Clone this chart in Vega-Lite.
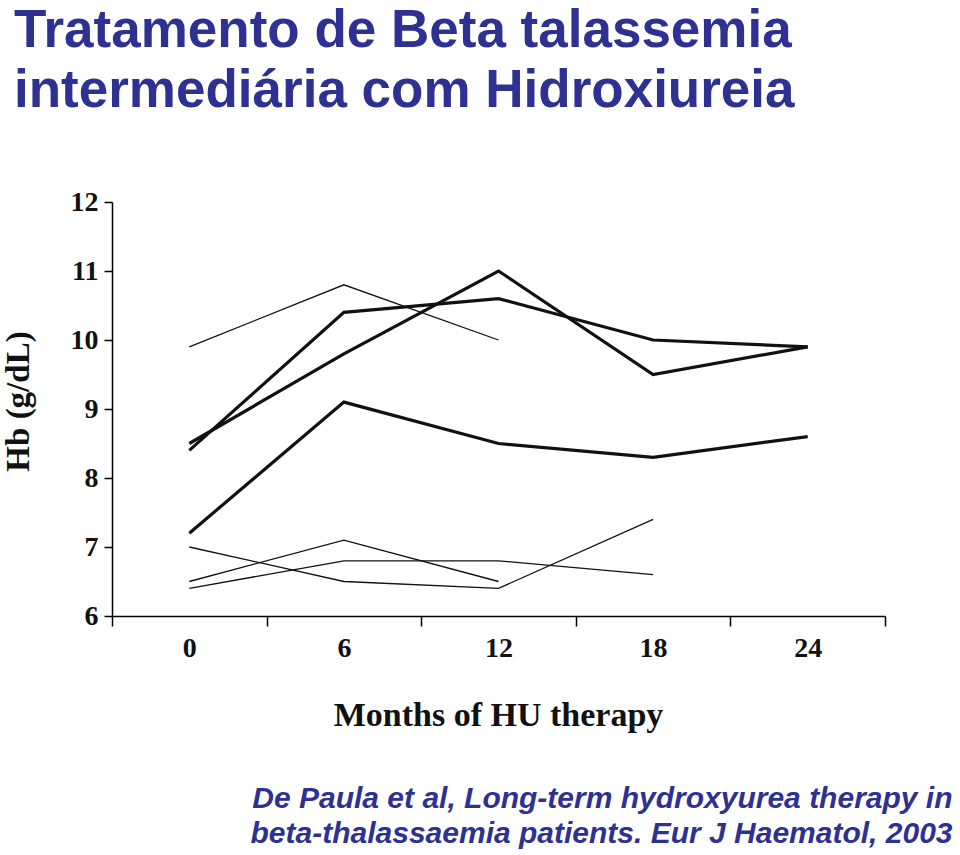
{
  "$schema": "https://vega.github.io/schema/vega-lite/v6.json",
  "autosize": {"type": "none"},
  "width": 773,
  "height": 414,
  "padding": {"left": 112, "top": 202, "right": 75, "bottom": 239},
  "background": "white",
  "title": {
    "text": ["Tratamento de Beta talassemia", "intermediária com Hidroxiureia"],
    "anchor": "start",
    "frame": "group",
    "orient": "top",
    "offset": 0,
    "dx": -98,
    "dy": -70,
    "font": "Liberation Sans",
    "fontSize": 53,
    "fontWeight": "bold",
    "color": "#2e3192",
    "lineHeight": 60,
    "baseline": "top"
  },
  "data": {
    "values": [
      {"patient": "A", "cohort": "24 months", "month": 0, "hb": 8.4},
      {"patient": "A", "cohort": "24 months", "month": 6, "hb": 10.4},
      {"patient": "A", "cohort": "24 months", "month": 12, "hb": 10.6},
      {"patient": "A", "cohort": "24 months", "month": 18, "hb": 10.0},
      {"patient": "A", "cohort": "24 months", "month": 24, "hb": 9.9},
      {"patient": "B", "cohort": "24 months", "month": 0, "hb": 8.5},
      {"patient": "B", "cohort": "24 months", "month": 6, "hb": 9.8},
      {"patient": "B", "cohort": "24 months", "month": 12, "hb": 11.0},
      {"patient": "B", "cohort": "24 months", "month": 18, "hb": 9.5},
      {"patient": "B", "cohort": "24 months", "month": 24, "hb": 9.9},
      {"patient": "C", "cohort": "24 months", "month": 0, "hb": 7.2},
      {"patient": "C", "cohort": "24 months", "month": 6, "hb": 9.1},
      {"patient": "C", "cohort": "24 months", "month": 12, "hb": 8.5},
      {"patient": "C", "cohort": "24 months", "month": 18, "hb": 8.3},
      {"patient": "C", "cohort": "24 months", "month": 24, "hb": 8.6},
      {"patient": "D", "cohort": "shorter", "month": 0, "hb": 9.9},
      {"patient": "D", "cohort": "shorter", "month": 6, "hb": 10.8},
      {"patient": "D", "cohort": "shorter", "month": 12, "hb": 10.0},
      {"patient": "E", "cohort": "shorter", "month": 0, "hb": 6.5},
      {"patient": "E", "cohort": "shorter", "month": 6, "hb": 7.1},
      {"patient": "E", "cohort": "shorter", "month": 12, "hb": 6.5},
      {"patient": "F", "cohort": "shorter", "month": 0, "hb": 6.4},
      {"patient": "F", "cohort": "shorter", "month": 6, "hb": 6.8},
      {"patient": "F", "cohort": "shorter", "month": 12, "hb": 6.8},
      {"patient": "F", "cohort": "shorter", "month": 18, "hb": 6.6},
      {"patient": "G", "cohort": "shorter", "month": 0, "hb": 7.0},
      {"patient": "G", "cohort": "shorter", "month": 6, "hb": 6.5},
      {"patient": "G", "cohort": "shorter", "month": 12, "hb": 6.4},
      {"patient": "G", "cohort": "shorter", "month": 18, "hb": 7.4}
    ]
  },
  "config": {
    "view": {"stroke": null},
    "axis": {"grid": false, "domainColor": "#000", "tickColor": "#000", "domainWidth": 1.5, "tickWidth": 1.5}
  },
  "resolve": {"scale": {"x": "independent"}, "axis": {"x": "independent"}},
  "layer": [
    {
      "mark": {"type": "line", "color": "#111"},
      "encoding": {
        "x": {
          "field": "month", "type": "quantitative",
          "scale": {"domain": [-3, 27], "nice": false, "zero": false},
          "axis": {
            "orient": "bottom",
            "values": [-3, 0, 3, 6, 9, 12, 15, 18, 21, 24, 27],
            "labelExpr": "datum.value % 6 === 0 ? datum.label : ''",
            "tickOpacity": {"condition": {"test": "datum.value % 6 === 0", "value": 0}, "value": 1},
            "tickSize": 10,
            "labelPadding": 8,
            "labelFont": "Liberation Serif", "labelFontWeight": "bold", "labelFontSize": 28, "labelColor": "#111",
            "title": "Months of HU therapy",
            "titleFont": "Liberation Serif", "titleFontWeight": "bold", "titleFontSize": 34, "titleColor": "#111",
            "titleX": 386, "titleY": 109, "titleBaseline": "alphabetic", "titleAlign": "center", "titleAnchor": null
          }
        },
        "y": {
          "field": "hb", "type": "quantitative",
          "scale": {"domain": [6, 12], "nice": false, "zero": false},
          "axis": {
            "values": [6, 7, 8, 9, 10, 11, 12],
            "format": "d",
            "tickSize": 8,
            "labelPadding": 6,
            "labelFont": "Liberation Serif", "labelFontWeight": "bold", "labelFontSize": 28, "labelColor": "#111",
            "title": "Hb (g/dL)",
            "titleFont": "Liberation Serif", "titleFontWeight": "bold", "titleFontSize": 33, "titleColor": "#111",
            "titleAngle": 270, "titleX": -94, "titleY": 199, "titleBaseline": "middle", "titleAlign": "center"
          }
        },
        "detail": {"field": "patient"},
        "strokeWidth": {
          "field": "cohort", "type": "nominal",
          "scale": {"domain": ["24 months", "shorter"], "range": [3.2, 1.3]},
          "legend": null
        }
      }
    },
    {
      "mark": {"type": "point", "opacity": 0},
      "encoding": {
        "x": {
          "field": "month", "type": "quantitative",
          "scale": {"domain": [-3, 27], "nice": false, "zero": false},
          "axis": {
            "orient": "bottom",
            "domain": false, "ticks": false, "labels": false,
            "title": ["De Paula et al, Long-term hydroxyurea therapy in", "beta-thalassaemia patients. Eur J Haematol, 2003"],
            "titleFont": "Liberation Sans", "titleFontWeight": "bold", "titleFontStyle": "italic", "titleFontSize": 30,
            "titleColor": "#2e3192", "titleLineHeight": 35,
            "titleX": 840, "titleY": 191, "titleAlign": "right", "titleAnchor": null, "titleBaseline": "alphabetic"
          }
        },
        "y": {"field": "hb", "type": "quantitative"}
      }
    }
  ]
}
